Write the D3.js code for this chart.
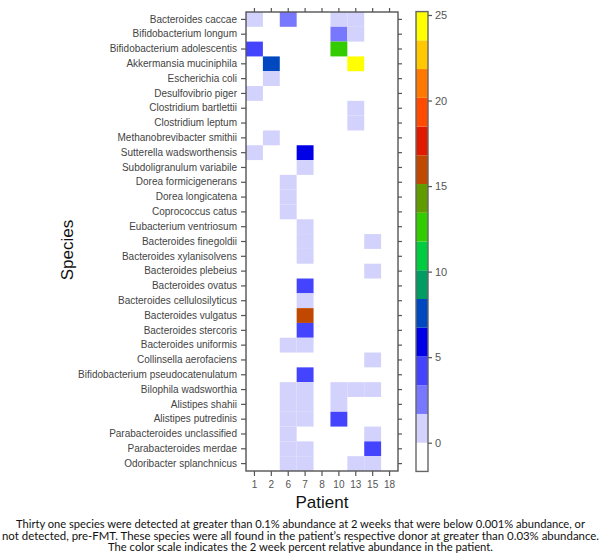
<!DOCTYPE html>
<html>
<head>
<meta charset="utf-8">
<script src="https://cdn.jsdelivr.net/npm/d3@7"></script>
<style>
  html, body { margin: 0; padding: 0; background: #fff; }
  svg { display: block; }
</style>
</head>
<body>
<svg id="chart" width="602" height="559"></svg>
<script>
const species = [
  "Bacteroides caccae", "Bifidobacterium longum", "Bifidobacterium adolescentis",
  "Akkermansia muciniphila", "Escherichia coli", "Desulfovibrio piger",
  "Clostridium bartlettii", "Clostridium leptum", "Methanobrevibacter smithii",
  "Sutterella wadsworthensis", "Subdoligranulum variabile", "Dorea formicigenerans",
  "Dorea longicatena", "Coprococcus catus", "Eubacterium ventriosum",
  "Bacteroides finegoldii", "Bacteroides xylanisolvens", "Bacteroides plebeius",
  "Bacteroides ovatus", "Bacteroides cellulosilyticus", "Bacteroides vulgatus",
  "Bacteroides stercoris", "Bacteroides uniformis", "Collinsella aerofaciens",
  "Bifidobacterium pseudocatenulatum", "Bilophila wadsworthia", "Alistipes shahii",
  "Alistipes putredinis", "Parabacteroides unclassified", "Parabacteroides merdae",
  "Odoribacter splanchnicus"
];
const patients = ["1", "2", "6", "7", "8", "10", "13", "15", "18"];
// percent relative abundance at 2 weeks, one row per species, columns follow `patients`
const abundance = [
  [0.5, 0, 2.5, 0, 0, 0.5, 0.5, 0, 0],
  [0, 0, 0, 0, 0, 2.5, 0.5, 0, 0],
  [4.2, 0, 0, 0, 0, 12.5, 0, 0, 0],
  [0, 7.5, 0, 0, 0, 0, 24.5, 0, 0],
  [0, 0.5, 0, 0, 0, 0, 0, 0, 0],
  [0.5, 0, 0, 0, 0, 0, 0, 0, 0],
  [0, 0, 0, 0, 0, 0, 0.5, 0, 0],
  [0, 0, 0, 0, 0, 0, 0.5, 0, 0],
  [0, 0.5, 0, 0, 0, 0, 0, 0, 0],
  [0.5, 0, 0, 5.9, 0, 0, 0, 0, 0],
  [0, 0, 0, 0.5, 0, 0, 0, 0, 0],
  [0, 0, 0.5, 0, 0, 0, 0, 0, 0],
  [0, 0, 0.5, 0, 0, 0, 0, 0, 0],
  [0, 0, 0.5, 0, 0, 0, 0, 0, 0],
  [0, 0, 0, 0.5, 0, 0, 0, 0, 0],
  [0, 0, 0, 0.5, 0, 0, 0, 0.5, 0],
  [0, 0, 0, 0.5, 0, 0, 0, 0, 0],
  [0, 0, 0, 0, 0, 0, 0, 0.5, 0],
  [0, 0, 0, 4.2, 0, 0, 0, 0, 0],
  [0, 0, 0, 0.5, 0, 0, 0, 0, 0],
  [0, 0, 0, 16, 0, 0, 0, 0, 0],
  [0, 0, 0, 4.2, 0, 0, 0, 0, 0],
  [0, 0, 0.5, 0.5, 0, 0, 0, 0, 0],
  [0, 0, 0, 0, 0, 0, 0, 0.5, 0],
  [0, 0, 0, 4.2, 0, 0, 0, 0, 0],
  [0, 0, 0.5, 0.5, 0, 0.5, 0.5, 0.5, 0],
  [0, 0, 0.5, 0.5, 0, 0.5, 0, 0, 0],
  [0, 0, 0.5, 0.5, 0, 4.2, 0, 0, 0],
  [0, 0, 0.5, 0, 0, 0, 0, 0.5, 0],
  [0, 0, 0.5, 0.5, 0, 0, 0, 4.2, 0],
  [0, 0, 0.5, 0.5, 0, 0, 0.5, 0.5, 0]
];
const colorTicks = [0, 5, 10, 15, 20, 25];
const colorLevels = [
  "#ffffff", "#d2d2fc", "#7878ff", "#4444ff", "#0000e6", "#0048c0",
  "#009c62", "#00cc40", "#33cc00", "#609c00", "#c04800", "#e01a00",
  "#ff4a00", "#ff7800", "#ffc800", "#ffff00"
];
const colorDomain = [-1.68, 25.2];
const captionLines = [
  "Thirty one species were detected at greater than 0.1% abundance at 2 weeks that were below 0.001% abundance, or",
  "not detected, pre-FMT. These species were all found in the patient\u2019s respective donor at greater than 0.03% abundance.",
  "The color scale indicates the 2 week percent relative abundance in the patient."
];

const svg = d3.select("#chart");
const P = { left: 246, right: 398, top: 12, bottom: 471 };
const axisColor = "#555";
const labelFont = "Liberation Sans, Arial, sans-serif";

const x = d3.scaleBand().domain(patients).range([P.left, P.right]);
const y = d3.scaleBand().domain(species).range([P.top, P.bottom]);
const color = d3.scaleQuantize().domain(colorDomain).range(colorLevels);

// cells
const cells = [];
species.forEach((s, i) => patients.forEach((p, j) => {
  const v = abundance[i][j];
  if (v > 0) cells.push({ s, p, v });
}));
svg.append("g").selectAll("rect").data(cells).join("rect")
  .attr("x", d => x(d.p))
  .attr("y", d => y(d.s))
  .attr("width", x.bandwidth())
  .attr("height", y.bandwidth())
  .attr("fill", d => color(d.v));

// frame
svg.append("rect")
  .attr("x", P.left).attr("y", P.top)
  .attr("width", P.right - P.left).attr("height", P.bottom - P.top)
  .attr("fill", "none").attr("stroke", axisColor).attr("stroke-width", 1.4);

function styleAxis(g, showText) {
  g.select(".domain").remove();
  g.selectAll(".tick line").attr("stroke", axisColor).attr("stroke-width", 1.2);
  if (!showText) g.selectAll(".tick text").remove();
  else g.selectAll(".tick text").attr("fill", "#444").attr("font-family", labelFont);
}

svg.append("g").attr("transform", `translate(${P.left},0)`)
  .call(d3.axisLeft(y).tickSize(5).tickPadding(4))
  .call(g => styleAxis(g, true))
  .call(g => g.selectAll(".tick text").attr("font-size", 10));
svg.append("g").attr("transform", `translate(${P.right},0)`)
  .call(d3.axisRight(y).tickSize(4))
  .call(g => styleAxis(g, false));
svg.append("g").attr("transform", `translate(0,${P.bottom})`)
  .call(d3.axisBottom(x).tickSize(5).tickPadding(5))
  .call(g => styleAxis(g, true))
  .call(g => g.selectAll(".tick text").attr("font-size", 10).attr("fill", "#555"));
svg.append("g").attr("transform", `translate(0,${P.top})`)
  .call(d3.axisTop(x).tickSize(4))
  .call(g => styleAxis(g, false));

// axis titles
svg.append("text")
  .attr("x", (P.left + P.right) / 2).attr("y", 508)
  .attr("text-anchor", "middle").attr("font-family", labelFont)
  .attr("font-size", 17).attr("fill", "#111").text("Patient");
svg.append("text")
  .attr("transform", `translate(73,250) rotate(-90)`)
  .attr("text-anchor", "middle").attr("font-family", labelFont)
  .attr("font-size", 17).attr("fill", "#111").text("Species");

// color bar
const CB = { left: 416, right: 428 };
const cy = d3.scaleLinear().domain([0, 25]).range([442.7, 15]);
const step = (colorDomain[1] - colorDomain[0]) / colorLevels.length;
const bands = colorLevels.map((c, i) => ({ c, lo: colorDomain[0] + i * step, hi: colorDomain[0] + (i + 1) * step }));
svg.append("g").selectAll("rect").data(bands).join("rect")
  .attr("x", CB.left).attr("width", CB.right - CB.left)
  .attr("y", d => cy(d.hi)).attr("height", d => cy(d.lo) - cy(d.hi))
  .attr("fill", d => d.c);
svg.append("rect")
  .attr("x", CB.left).attr("y", cy(colorDomain[1]))
  .attr("width", CB.right - CB.left).attr("height", cy(colorDomain[0]) - cy(colorDomain[1]))
  .attr("fill", "none").attr("stroke", "#666").attr("stroke-width", 1.4);
svg.append("g").attr("transform", `translate(${CB.right},0)`)
  .call(d3.axisRight(cy).tickValues(colorTicks).tickSize(4).tickPadding(3))
  .call(g => styleAxis(g, true))
  .call(g => g.selectAll(".tick text").attr("font-size", 11).attr("fill", "#555"));

// caption
const capWidths = [569, 597, 385];
svg.append("g").selectAll("text").data(captionLines).join("text")
  .attr("x", 300.5).attr("y", (d, i) => 528 + i * 11.5)
  .attr("text-anchor", "middle")
  .attr("font-family", "Lato, 'Open Sans', sans-serif")
  .attr("font-size", 10.5).attr("fill", "#111")
  .attr("textLength", (d, i) => capWidths[i])
  .attr("lengthAdjust", "spacingAndGlyphs")
  .text(d => d);
</script>
</body>
</html>
